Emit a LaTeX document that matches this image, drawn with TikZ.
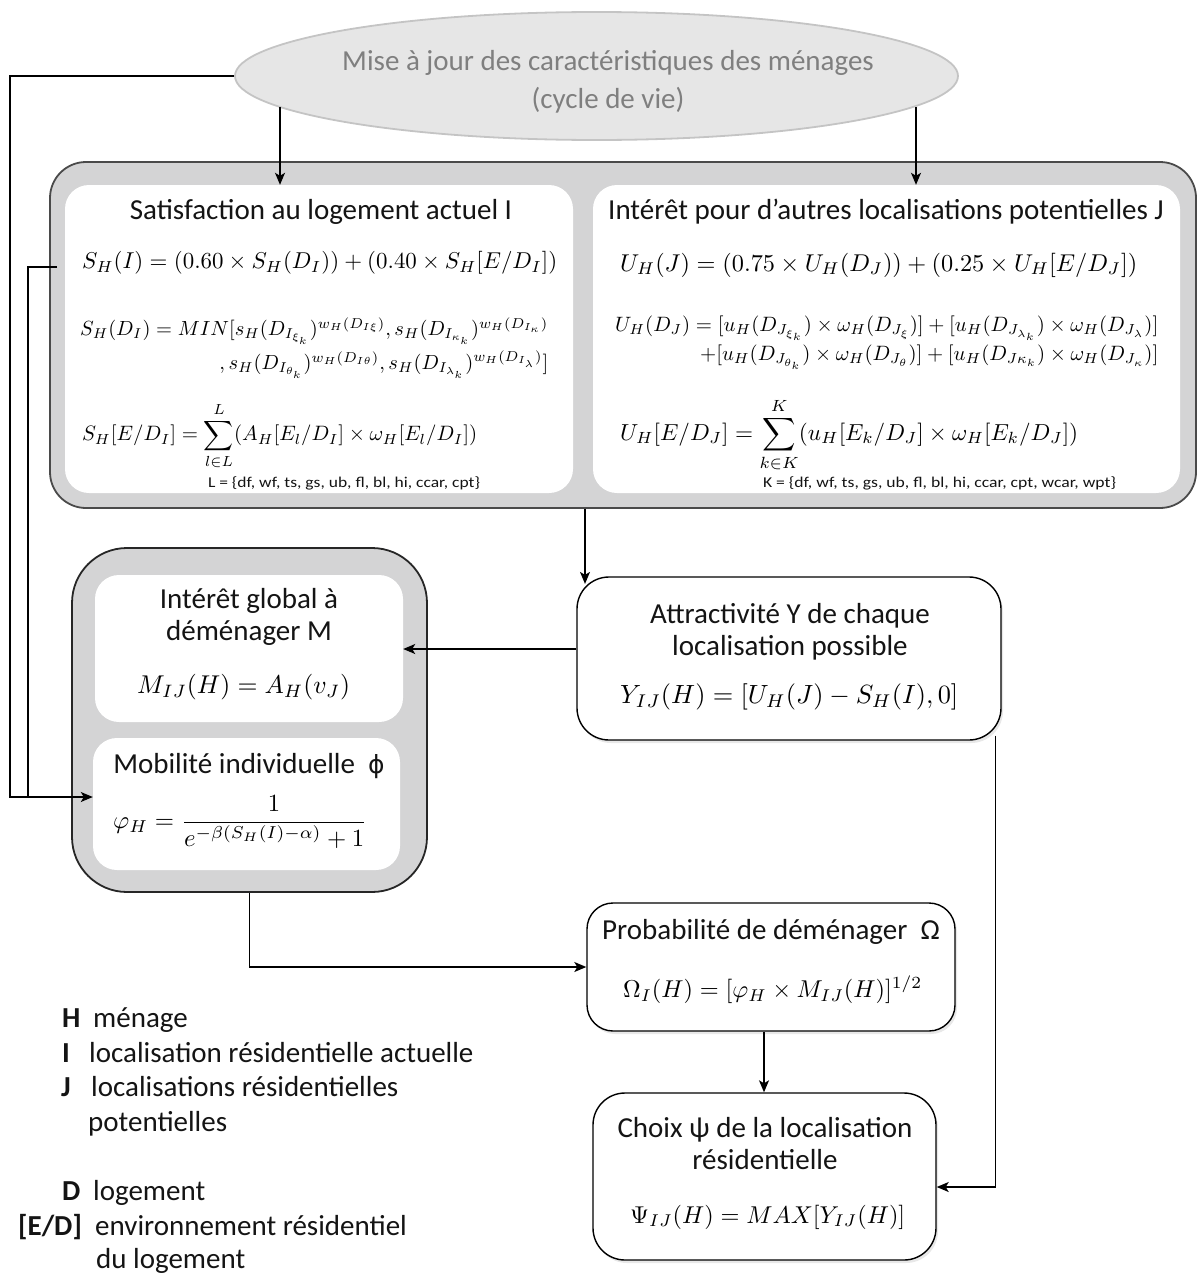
\documentclass[tikz,border=0pt]{standalone}
\usepackage{amsmath}
\usepackage{graphicx}
\usepackage{fontspec}
\setmainfont{Carlito}
\newfontfamily\dvsans{DejaVu Sans}
\usetikzlibrary{arrows.meta,shapes.geometric,shadows}
\definecolor{panelgray}{HTML}{D4D4D5}
\definecolor{bordergray}{HTML}{4A4A4A}
\definecolor{ellfill}{HTML}{E6E6E6}
\definecolor{elldraw}{HTML}{C4C4C4}
\definecolor{elltext}{HTML}{7F7F7F}
\definecolor{txt}{HTML}{141414}
\begin{document}
\begin{tikzpicture}[x=1pt,y=-1pt,
  outerpanel/.style={draw=bordergray, fill=panelgray, line width=1.8pt, inner sep=0pt},
  innerpanel/.style={fill=white, draw=none, inner sep=0pt, rounded corners=24pt},
  whitebox/.style={draw=black, fill=white, line width=1.4pt, inner sep=0pt, rounded corners=26pt,
     drop shadow={opacity=0.18, shadow xshift=2pt, shadow yshift=-3pt}},
  ttl/.style={font=\fontsize{29}{32}\selectfont, text=txt, inner sep=0pt, align=center},
  fml/.style={inner sep=0pt, anchor=west},
  lg/.style={font=\fontsize{29}{32}\selectfont, text=txt, inner sep=0pt, anchor=west, text height=0.7em, text depth=0.2em},
  lgb/.style={lg, font=\fontsize{29}{32}\selectfont\bfseries},
  arr/.style={-{Stealth[length=12pt,width=10pt,inset=3pt]}, line width=1.3pt},
  ln/.style={line width=1.3pt}
]
\useasboundingbox (0,0) rectangle (1200,1274);

% ellipse
\node[ellipse, draw=elldraw, fill=ellfill, line width=1.8pt, minimum width=723pt, minimum height=128pt, inner sep=0pt] (maj) at (596.5,76) {};
\node[font=\fontsize{29}{38}\selectfont, text=elltext, align=center, inner sep=0pt] (majt) at (608,82) {Mise à jour des caractéristiques des ménages\\(cycle de vie)};

% top panel
\node[outerpanel, rounded corners=36pt, minimum width=1146pt, minimum height=346pt] (top) at (623,335) {};
\node[innerpanel, minimum width=508pt, minimum height=308pt] (sat) at (319,339) {};
\node[innerpanel, minimum width=587pt, minimum height=308pt] (int) at (886.5,339) {};

\node[ttl] (tsat) at (321,212) {Satisfaction au logement actuel I};
\node[ttl] (tint) at (886,212) {Intérêt pour d’autres localisations potentielles J};

\node[fml] (sI) at (82,263) {\resizebox{475pt}{!}{$S_H(I) = (0.60\times S_H(D_I)) + (0.40\times S_H[E/D_I])$}};
\node[fml] (sD) at (80,348) {\resizebox{468pt}{!}{$\begin{array}{@{}r@{}}
 S_H(D_I) = MIN[s_H(D_{I_{\xi_k}})^{w_H(D_{I\xi})}, s_H(D_{I_{\kappa_k}})^{w_H(D_{I_\kappa})}\\[4pt]
 , s_H(D_{I_{\theta_k}})^{w_H(D_{I\theta})}, s_H(D_{I_{\lambda_k}})^{w_H(D_{I_\lambda})}]
 \end{array}$}};
\node[fml] (sE) at (82,436) {\resizebox{395pt}{!}{$\displaystyle S_H[E/D_I] = \sum_{l\in L}^{L}(A_H[E_l/D_I]\times\omega_H[E_l/D_I])$}};
\node[inner sep=0pt, text=txt] (Lset) at (344,483) {\resizebox{272pt}{\height}{\fontsize{15}{17}\selectfont L = \{df, wf, ts, gs, ub, fl, bl, hi, ccar, cpt\}}};

\node[fml] (uJ) at (620,265) {\resizebox{517pt}{!}{$U_H(J) = (0.75\times U_H(D_J)) + (0.25\times U_H[E/D_J])$}};
\node[fml] (uD) at (615,342) {\resizebox{543pt}{!}{$\begin{array}{@{}r@{}}
 U_H(D_J) = [u_H(D_{J_{\xi_k}})\times\omega_H(D_{J_\xi})] + [u_H(D_{J_{\lambda_k}})\times\omega_H(D_{J_\lambda})]\\[2pt]
 +[u_H(D_{J_{\theta_k}})\times\omega_H(D_{J_\theta})] + [u_H(D_{J\kappa_k})\times\omega_H(D_{J_\kappa})]
 \end{array}$}};
\node[fml] (uE) at (620,435) {\resizebox{458pt}{!}{$\displaystyle U_H[E/D_J] = \sum_{k\in K}^{K}(u_H[E_k/D_J]\times\omega_H[E_k/D_J])$}};
\node[inner sep=0pt, text=txt] (Kset) at (939.5,483) {\resizebox{353pt}{\height}{\fontsize{15}{17}\selectfont K = \{df, wf, ts, gs, ub, fl, bl, hi, ccar, cpt, wcar, wpt\}}};

% left group
\node[outerpanel, draw=black!85, rounded corners=55pt, minimum width=355pt, minimum height=344pt] (grp) at (249.5,720) {};
\node[innerpanel, minimum width=308pt, minimum height=147pt] (mglob) at (249,648.5) {};
\node[innerpanel, minimum width=307pt, minimum height=132pt] (mob) at (246.5,804) {};
\node[ttl] (tmglob) at (249,617) {Intérêt global à\\déménager M};
\node[fml] (fm) at (137,687) {\resizebox{213pt}{!}{$M_{IJ}(H) = A_H(v_J)$}};
\node[ttl, text height=0.7em, text depth=0.2em] (tmob) at (249,771) {Mobilité individuelle~ {\dvsans\fontsize{25}{30}\selectfont ϕ}};
\node[fml] (fphi) at (113,822) {\resizebox{254pt}{!}{$\varphi_H = \dfrac{1}{e^{-\beta(S_H(I)-\alpha)}+1}$}};

% attractivite
\node[whitebox, minimum width=424pt, minimum height=163pt, rounded corners=32pt] (attr) at (789,658.5) {};
\node[ttl] (tattr) at (790,632) {Attractivité Y de chaque\\localisation possible};
\node[fml] (fattr) at (620,697) {\resizebox{338pt}{!}{$Y_{IJ}(H) = [U_H(J) - S_H(I), 0]$}};

% probabilite
\node[whitebox, minimum width=368pt, minimum height=128pt] (prob) at (771,967) {};
\node[ttl, text height=0.7em, text depth=0.2em] (tprob) at (771,937) {Probabilité de déménager~ Ω};
\node[fml] (fprob) at (623,990) {\resizebox{299pt}{!}{$\Omega_I(H) = [\varphi_H\times M_{IJ}(H)]^{1/2}$}};

% choix
\node[whitebox, minimum width=343pt, minimum height=167pt, rounded corners=32pt] (choix) at (764.5,1176.5) {};
\node[ttl] (tchoix) at (765,1144) {Choix ψ de la localisation\\résidentielle};
\node[fml] (fchoix) at (630,1217) {\resizebox{275pt}{!}{$\Psi_{IJ}(H) = MAX[Y_{IJ}(H)]$}};

% connectors
\coordinate (m1) at (280,107);
\coordinate (m2) at (916,107);
\draw[arr] (m1) -- (m1 |- sat.north);
\draw[arr] (m2) -- (m2 |- int.north);
\draw[arr] (maj.west) -| (10,797) -- ([yshift=7pt]mob.west);
\coordinate (s1) at (57,267);
\draw[ln] (s1) -| (28,797);
\draw[arr] ([xshift=-38pt]top.south) -- ++(0,75);
\draw[arr] ([yshift=9.5pt]attr.west) coordinate (a1) -- (a1 -| mglob.east);
\draw[arr] ([xshift=-6pt,yshift=5pt]attr.south east) |- ([yshift=-10.5pt]choix.east);
\draw[arr] (grp.south) |- (prob.west);
\draw[arr] ([xshift=-7pt]prob.south) -- ([xshift=-0.5pt]choix.north);

% legend
\node[lgb] (lH) at (62,1025) {H};
\node[lg] (lHt) at (93,1025) {ménage};
\node[lgb] (lI) at (62,1060) {I};
\node[lg] (lIt) at (89,1060) {localisation résidentielle actuelle};
\node[lgb] (lJ) at (61,1094) {J};
\node[lg] (lJt) at (91,1094) {localisations résidentielles};
\node[lg] (lJt2) at (88,1129) {potentielles};
\node[lgb] (lD) at (62,1198) {D};
\node[lg] (lDt) at (93,1198) {logement};
\node[lgb] (lE) at (18,1233) {[E/D]};
\node[lg] (lEt) at (95,1233) {environnement résidentiel};
\node[lg] (lEt2) at (96,1266) {du logement};
\end{tikzpicture}
\end{document}
